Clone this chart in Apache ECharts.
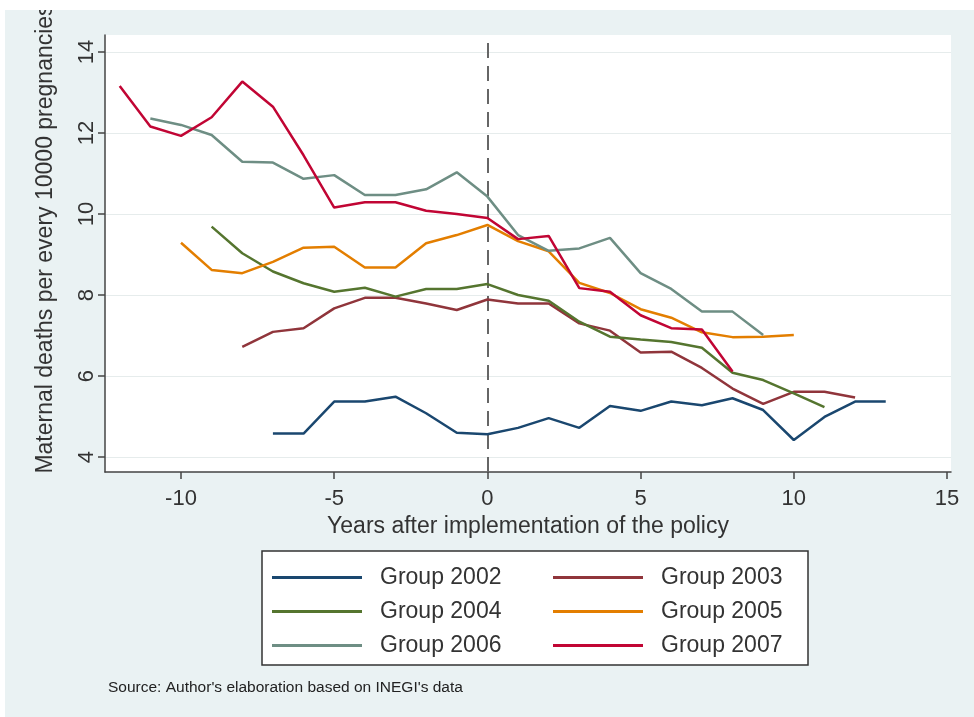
<!DOCTYPE html>
<html>
<head>
<meta charset="utf-8">
<script src="https://cdn.jsdelivr.net/npm/echarts@6/dist/echarts.min.js"></script>
<style>
html,body{margin:0;padding:0;background:#fff;width:974px;height:717px;overflow:hidden;}
#c{position:absolute;left:5px;top:10px;width:969px;height:707px;}
</style>
</head>
<body>
<div id="c"></div>
<script>
// Series names and first relative year of each group
const groupNames = ['Group 2002','Group 2003','Group 2004','Group 2005','Group 2006','Group 2007'];
const startYear = [-7, -8, -9, -10, -11, -12];
// Values (maternal deaths per 10000 pregnancies), one per year from startYear
const g2002 = [4.58,4.58,5.37,5.37,5.49,5.08,4.60,4.56,4.72,4.96,4.72,5.26,5.14,5.37,5.28,5.45,5.16,4.42,4.99,5.37,5.37];
const g2003 = [6.72,7.09,7.18,7.67,7.93,7.93,7.79,7.63,7.89,7.79,7.79,7.30,7.12,6.58,6.60,6.20,5.69,5.31,5.61,5.61,5.47];
const g2004 = [9.69,9.03,8.58,8.29,8.08,8.18,7.96,8.15,8.15,8.27,8.00,7.86,7.34,6.97,6.90,6.84,6.70,6.08,5.90,5.57,5.23];
const g2005 = [9.29,8.62,8.54,8.82,9.17,9.19,8.68,8.68,9.28,9.48,9.73,9.33,9.08,8.30,8.05,7.65,7.44,7.08,6.96,6.97,7.01];
const g2006 = [12.36,12.20,11.95,11.29,11.27,10.87,10.96,10.47,10.47,10.61,11.03,10.43,9.48,9.09,9.15,9.41,8.54,8.15,7.59,7.59,7.01];
const g2007 = [13.16,12.16,11.93,12.39,13.27,12.65,11.45,10.16,10.29,10.29,10.08,10.00,9.90,9.38,9.46,8.17,8.08,7.50,7.18,7.15,6.11];
const groupValues = [g2002, g2003, g2004, g2005, g2006, g2007];
const groupColors = ['#1a476f','#90353b','#55752f','#e37e00','#6e8e84','#c10534'];
// Tick labels
const xTicks = [-10, -5, 0, 5, 10, 15];
const yTicks = [4, 6, 8, 10, 12, 14];

const FONT = '"Liberation Sans", Arial, sans-serif';
const TXT = '#333';

const series = groupNames.map((name, k) => {
  const s = {
    name: name,
    type: 'line',
    symbol: 'none',
    data: groupValues[k].map((v, i) => [startYear[k] + i, v]),
    lineStyle: { width: 2.5, color: groupColors[k] },
    itemStyle: { color: groupColors[k] },
    z: 3 + k
  };
  if (k === 0) {
    s.markLine = {
      silent: true,
      symbol: ['none', 'none'],
      label: { show: false },
      lineStyle: { type: [15, 8], color: '#666', width: 2 },
      data: [{ xAxis: 0 }],
      z: 2
    };
  }
  return s;
});

const legendCommon = {
  orient: 'vertical',
  top: 556,
  itemWidth: 90,
  itemHeight: 3,
  itemGap: 11,
  icon: 'rect',
  padding: 0,
  selectedMode: false,
  textStyle: { fontSize: 23, color: TXT, fontFamily: FONT, padding: [0, 0, 0, 13], lineHeight: 22 }
};

const chart = echarts.init(document.getElementById('c'), null, { renderer: 'canvas' });
chart.setOption({
  animation: false,
  backgroundColor: '#eaf2f3',
  textStyle: { fontFamily: FONT },
  grid: { left: 100, right: 23, top: 25, bottom: 245, show: true, backgroundColor: '#ffffff', borderWidth: 0 },
  xAxis: {
    type: 'value', min: -12.48, max: 15.13,
    axisLine: { show: true, onZero: false, lineStyle: { color: '#444', width: 1.5 } },
    axisTick: { show: true, length: 7, customValues: xTicks, lineStyle: { color: '#444', width: 1.5 } },
    axisLabel: { customValues: xTicks, fontSize: 22, color: TXT, fontFamily: FONT, margin: 16 },
    splitLine: { show: false },
    name: 'Years after implementation of the policy',
    nameLocation: 'middle', nameGap: 40,
    nameTextStyle: { fontSize: 23, color: TXT, fontFamily: FONT }
  },
  yAxis: {
    type: 'value', min: 3.63, max: 14.42,
    axisLine: { show: true, onZero: false, lineStyle: { color: '#444', width: 1.5 } },
    axisTick: { show: true, length: 7, customValues: yTicks, lineStyle: { color: '#444', width: 1.5 } },
    axisLabel: { customValues: yTicks, rotate: 90, fontSize: 22, color: TXT, fontFamily: FONT, margin: 7 },
    splitLine: { show: true, lineStyle: { color: '#e6ecec', width: 1 } }
  },
  legend: [
    Object.assign({}, legendCommon, { left: 267, data: ['Group 2002', 'Group 2004', 'Group 2006'] }),
    Object.assign({}, legendCommon, { left: 548, data: ['Group 2003', 'Group 2005', 'Group 2007'] })
  ],
  graphic: [
    { type: 'rect', z: 0, shape: { x: 257, y: 541, width: 546, height: 114 },
      style: { fill: '#ffffff', stroke: '#333', lineWidth: 1.5 } },
    { type: 'text', z: 10, x: 41, y: 229, rotation: Math.PI / 2,
      style: { text: 'Maternal deaths per every 10000 pregnancies', fontSize: 23, fill: TXT, fontFamily: FONT,
               align: 'center', verticalAlign: 'middle' } },
    { type: 'text', z: 10, x: 103, y: 678,
      style: { text: "Source: Author's elaboration based on INEGI's data", fontSize: 15.5, fill: '#222', fontFamily: FONT,
               align: 'left', verticalAlign: 'middle' } }
  ],
  series: series
});
</script>
</body>
</html>
